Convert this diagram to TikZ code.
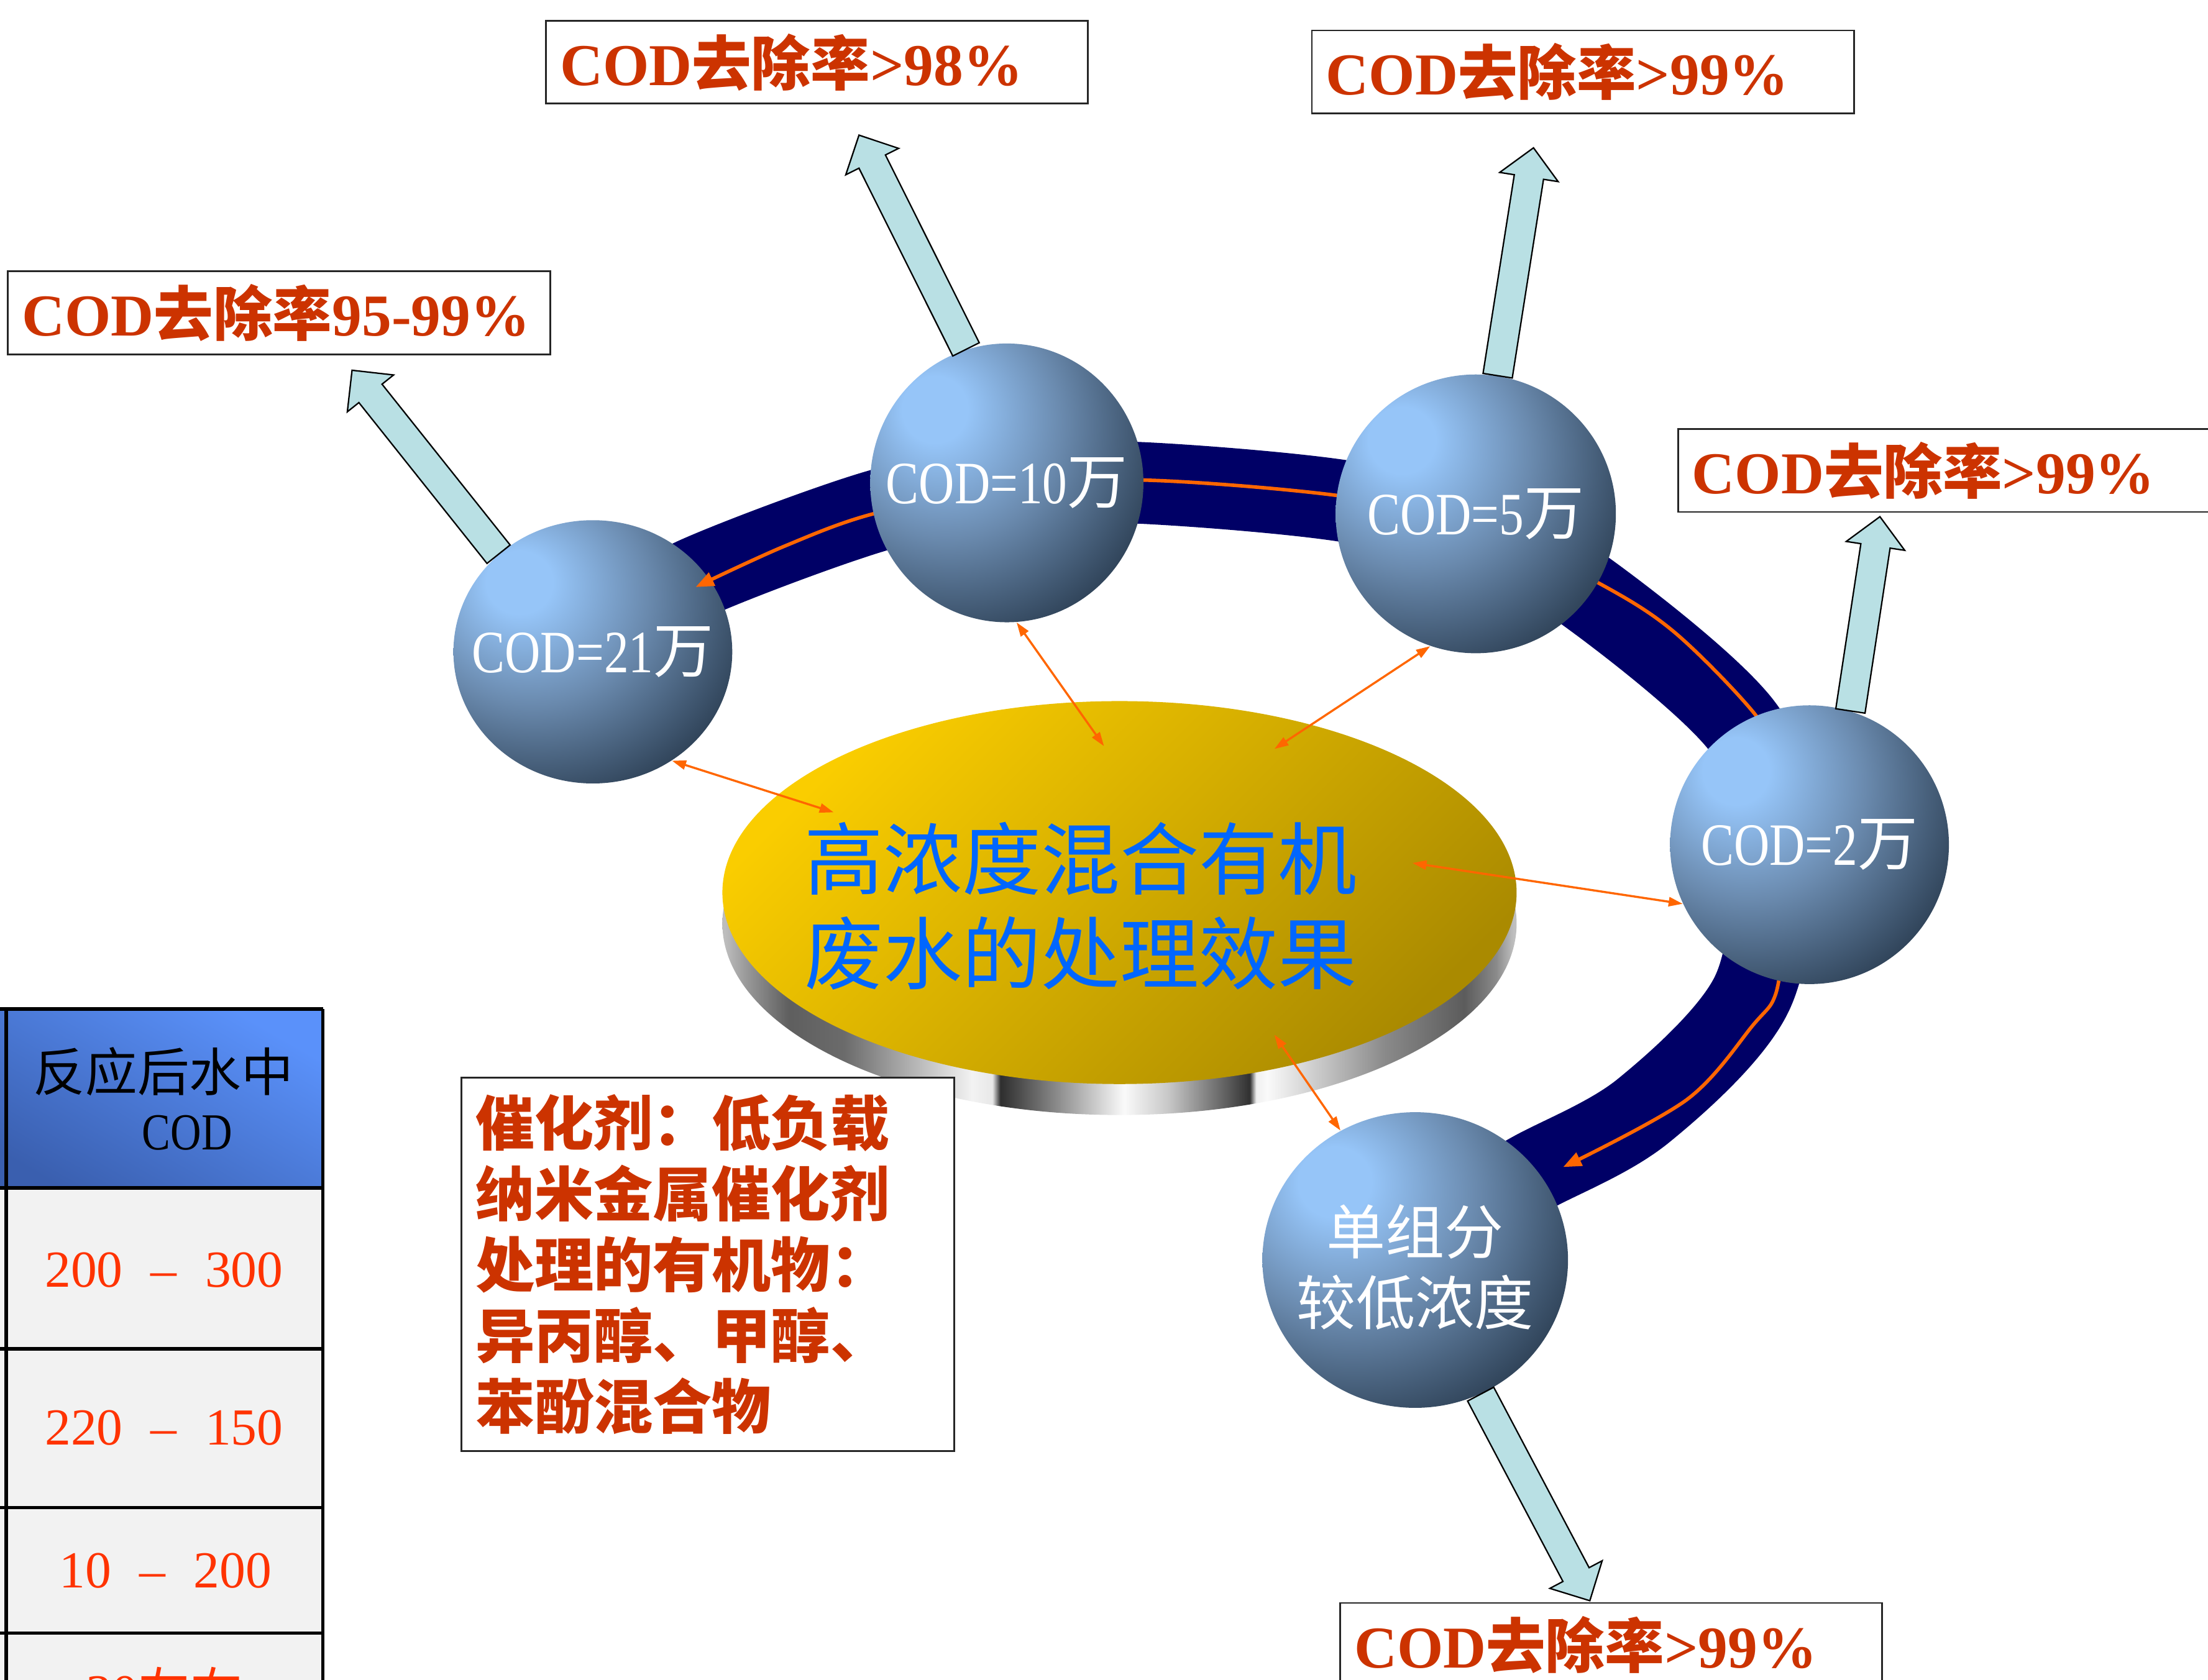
\documentclass[tikz,border=0pt]{standalone}
\usepackage{fontspec}
\setmainfont{Liberation Serif}
\newfontfamily\cjk{Noto Sans CJK SC}
\newfontfamily\narrow[FakeStretch=0.82]{Liberation Serif}
\usetikzlibrary{arrows.meta,calc,shapes.geometric}

\definecolor{ringblue}{RGB}{0,0,102}
\definecolor{floworange}{RGB}{255,102,0}
\definecolor{sphlight}{RGB}{150,197,248}
\definecolor{sphmid}{RGB}{106,138,174}
\definecolor{sphdark}{RGB}{50,70,92}
\definecolor{goldlight}{RGB}{250,205,0}
\definecolor{golddark}{RGB}{170,138,0}
\definecolor{ratered}{RGB}{204,51,0}
\definecolor{cellred}{RGB}{255,51,0}
\definecolor{discblue}{RGB}{0,102,255}
\definecolor{arrowcyan}{RGB}{185,224,228}
\definecolor{cellgray}{RGB}{242,242,242}
\definecolor{hdrlight}{RGB}{90,145,250}
\definecolor{hdrdark}{RGB}{58,95,175}

\pgfdeclareradialshading{sphere}{\pgfpoint{-14bp}{14bp}}{color(0bp)=(sphlight); color(6bp)=(sphlight); color(21bp)=(sphmid); color(37bp)=(sphdark); color(100bp)=(sphdark)}
% metal rim of the disc
\pgfdeclarehorizontalshading{discside}{100bp}{color(0bp)=(black!26); color(25.2bp)=(black!26); color(26.5bp)=(black!40); color(29.2bp)=(black!63); color(32.7bp)=(black!58); color(40.7bp)=(black!5); color(42bp)=(black!9); color(42.5bp)=(black!82); color(43.4bp)=(black!73); color(49.1bp)=(black!14); color(50.3bp)=(black!2); color(53.1bp)=(black!22); color(56.9bp)=(black!65); color(58.2bp)=(black!81); color(58.6bp)=(black!6); color(59.3bp)=(black!2); color(62bp)=(black!18); color(66.7bp)=(black!46); color(71.7bp)=(black!64); color(73.7bp)=(black!46); color(74.8bp)=(black!25); color(100bp)=(black!25)}

\tikzset{
  band/.style={line width=11.6mm, ringblue},
  flow/.style={line width=0.5mm, floworange, -{Triangle[length=2.6mm,width=2mm]}},
  link/.style={line width=0.3mm, floworange, {Triangle[length=2mm,width=1.3mm]}-{Triangle[length=2mm,width=1.3mm]}},
  sphere/.style={ellipse, shade, shading=sphere, inner sep=0pt},
  cod/.style={text=white, inner sep=0pt, font=\fontsize{24.3pt}{28.5pt}\selectfont},
  codcjk/.style={text=white, inner sep=0pt, align=center, font=\cjk\fontsize{23.9pt}{28.5pt}\selectfont},
  disctext/.style={text=discblue, align=center, font=\cjk\fontsize{31.9pt}{38.1pt}\selectfont},
  blockarrow/.style={fill=arrowcyan, draw=black, line width=0.2mm, line join=miter},
  ratebox/.style={draw=black!85, line width=0.25mm, fill=white, text width=73mm, inner xsep=2mm, inner ysep=0.5mm, minimum height=11.8mm, align=left, text=ratered, font=\bfseries\fontsize{24pt}{28pt}\selectfont},
  notebox/.style={draw=black!85, line width=0.25mm, fill=white, text width=66mm, inner xsep=2mm, minimum height=53mm, align=left, text=ratered, font=\cjk\bfseries\fontsize{23.9pt}{28.6pt}\selectfont},
  rule/.style={line width=0.5mm, black},
  cellval/.style={text=cellred, font=\fontsize{21pt}{25pt}\selectfont},
  cellhead/.style={font=\fontsize{21pt}{25pt}\selectfont}
}

% fat arrow from a sphere (#1) out to a point (#2)
\newcommand{\blockarrow}[2]{%
  \coordinate (neck) at ($(#2)!4.2mm!(#1)$);
  \draw[blockarrow] ($(#1)!2.1mm!90:(#2)$) -- ($(neck)!2.1mm!90:(#2)$)
    -- ($(neck)!4.2mm!90:(#2)$) -- (#2) -- ($(neck)!4.2mm!-90:(#2)$)
    -- ($(neck)!2.1mm!-90:(#2)$) -- ($(#1)!2.1mm!-90:(#2)$) -- cycle;
}

\begin{document}
\begin{tikzpicture}[x=0.2mm, y=0.2mm]
  \useasboundingbox (0,0) rectangle (1568,1193);

  % ring
  \draw[band] plot[smooth, tension=0.55] coordinates {(450,753) (495,783) (622,830) (715,848) (810,850) (955,837) (1048,813) (1126,773) (1238,676) (1258,593) (1244,487) (1167,404) (1088,360) (1040,333)};

  \node[sphere, minimum width=39.6mm, minimum height=37.4mm] (s21) at (421,730) {};
  \node[cod] (t21) at (s21) {{\narrow COD=21}{\cjk 万}};

  % flow along the ring
  \draw[flow] plot[smooth, tension=0.55] coordinates {(1262,653) (1246,686) (1189,744) (1135,779) (1048,821) (950,841) (812,852) (715,847) (620,828) (557,805) (494,776)};
  \draw[flow] plot[smooth, tension=0.55] coordinates {(1268,533) (1261,487) (1245,465) (1198,412) (1110,364)};

  % disc
  \shade[shading=discside] (795,537) ellipse [x radius=282, y radius=136];
  \shade[top color=goldlight, bottom color=golddark, shading angle=45] (795,559) ellipse [x radius=282, y radius=136];
  \node[disctext] (disc) at (767.5,549.5) {高浓度混合有机\\废水的处理效果};

  \node[sphere, minimum width=38.8mm, minimum height=39.6mm] (s10) at (715,850) {};
  \node[cod] (t10) at (s10) {{\narrow COD=10}{\cjk 万}};
  \node[sphere, minimum width=39.8mm, minimum height=39.6mm] (s5) at (1048,828) {};
  \node[cod] (t5) at (s5) {{\narrow COD=5}{\cjk 万}};
  \node[sphere, minimum width=39.6mm, minimum height=39.6mm] (s2) at (1285,593) {};
  \node[cod] (t2) at (s2) {{\narrow COD=2}{\cjk 万}};
  \node[sphere, minimum width=43.4mm, minimum height=42mm] (s1) at (1005,298) {};
  \node[codcjk] (t1) at (1005,293) {单组分\\较低浓度};

  % links between disc and spheres
  \coordinate (d21) at (592,616);
  \coordinate (d10) at (784,663);
  \coordinate (d5) at (905,661);
  \coordinate (d2) at (1003,580);
  \coordinate (d1) at (905,458);
  \draw[link] (s21.-54) -- (d21);
  \draw[link] (s10.-86) -- (d10);
  \draw[link] (s5.-109) -- (d5);
  \draw[link] (s2.205) -- (d2);
  \draw[link] (s1.120) -- (d1);

  % arrows out to the removal rates
  \coordinate (tip21) at (250,930);
  \coordinate (tip10) at (610,1097);
  \coordinate (tip5) at (1089,1088);
  \coordinate (tip2) at (1335,826);
  \coordinate (tip1) at (1129,56);
  \blockarrow{s21.134}{tip21}
  \blockarrow{s10.107}{tip10}
  \blockarrow{s5.81}{tip5}
  \blockarrow{s2.73}{tip2}
  \blockarrow{s1.-64}{tip1}

  \node[ratebox, anchor=north west] (rate21) at (5,1001) {COD{\cjk 去除率}95-99\%};
  \node[ratebox, anchor=north west] (rate10) at (387,1179) {COD{\cjk 去除率}>98\%};
  \node[ratebox, anchor=north west] (rate5) at (931,1172) {COD{\cjk 去除率}>99\%};
  \node[ratebox, anchor=north west] (rate2) at (1191,889) {COD{\cjk 去除率}>99\%};
  \node[ratebox, anchor=north west] (rate1) at (951,55) {COD{\cjk 去除率}>99\%};

  % table
  \fill[cellgray] (-20,-60) rectangle (229.3,349.2);
  \shade[bottom color=hdrdark, top color=hdrlight, shading angle=-30] (-20,349.2) rectangle (229.3,476.3);
  \foreach \y in {476.3,349.2,235,122.2,33}
    \draw[rule] (-20,\y) -- (229.3,\y);
  \foreach \x in {4.4,229.3}
    \draw[rule] (\x,-60) -- (\x,476.3);
  \node[cellhead] (hd1) at (116,432) {\cjk 反应后水中};
  \node[cellhead] (hd2) at (133,388.5) {\narrow COD};
  \node[cellval] (v1) at (116.5,291) {200\hspace{4mm}–\hspace{4mm}300};
  \node[cellval] (v2) at (116.5,178.6) {220\hspace{4mm}–\hspace{4mm}150};
  \node[cellval] (v3) at (117.5,77.5) {10\hspace{4mm}–\hspace{4mm}200};
  \node[cellval] (v4) at (116.6,-8) {30{\cjk 左右}};

  \node[notebox, anchor=north west] (note) at (327,428) {催化剂：低负载\\纳米金属催化剂\\处理的有机物：\\异丙醇、甲醇、\\苯酚混合物};
\end{tikzpicture}
\end{document}
